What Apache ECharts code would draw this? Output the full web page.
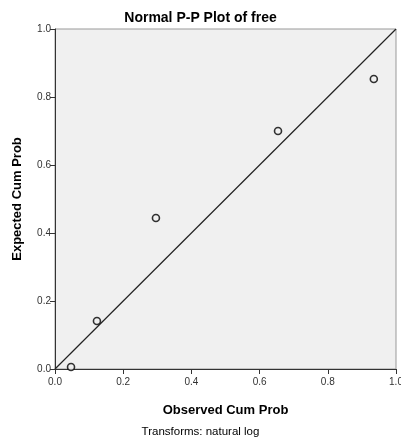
<!DOCTYPE html>
<html>
<head>
<meta charset="utf-8">
<script src="https://cdn.jsdelivr.net/npm/echarts@6/dist/echarts.min.js"></script>
<style>
  html, body { margin: 0; padding: 0; background: #fff; }
  #chart { width: 401px; height: 439px; }
</style>
</head>
<body>
<div id="chart"></div>
<script>
// P-P plot values
const observed = [0.047, 0.123, 0.296, 0.654, 0.935];
const expected = [0.006, 0.141, 0.444, 0.700, 0.853];
const refLine = [[0, 0], [1, 1]];

const font = '"Liberation Sans", Arial, sans-serif';
const points = observed.map((x, i) => [x, expected[i]]);

var chart = echarts.init(document.getElementById('chart'));

const axisCommon = {
  type: 'value',
  min: 0,
  max: 1,
  interval: 0.2,
  axisLine: { show: true, lineStyle: { color: '#333', width: 1 } },
  axisTick: { show: true, length: 5, lineStyle: { color: '#333' } },
  axisLabel: {
    color: '#333',
    fontFamily: font,
    fontSize: 10,
    formatter: v => v.toFixed(1)
  },
  splitLine: { show: false },
  nameLocation: 'middle',
  nameTextStyle: { color: '#000', fontFamily: font, fontSize: 13, fontWeight: 'bold' }
};

option = {
  animation: false,
  title: [
    {
      text: 'Normal P-P Plot of free',
      left: 'center',
      top: 6,
      textStyle: { fontFamily: font, fontSize: 14, fontWeight: 'bold', color: '#000' }
    },
    {
      text: 'Transforms: natural log',
      left: 'center',
      top: 421,
      textStyle: { fontFamily: font, fontSize: 11.5, fontWeight: 'normal', color: '#000' }
    }
  ],
  grid: {
    left: 55,
    right: 5,
    top: 29,
    bottom: 70,
    outerBoundsMode: 'none',
    containLabel: false,
    show: true,
    backgroundColor: '#f0f0f0',
    borderColor: '#999',
    borderWidth: 1
  },
  xAxis: Object.assign({}, axisCommon, {
    name: 'Observed Cum Prob',
    nameGap: 35,
    axisLabel: Object.assign({}, axisCommon.axisLabel, { margin: 8 })
  }),
  yAxis: Object.assign({}, axisCommon, {
    name: 'Expected Cum Prob',
    nameGap: 31,
    axisLabel: Object.assign({}, axisCommon.axisLabel, { margin: 4 })
  }),
  series: [
    {
      type: 'line',
      data: refLine,
      symbol: 'none',
      lineStyle: { color: '#222', width: 1.2 },
      silent: true
    },
    {
      type: 'scatter',
      data: points,
      symbol: 'circle',
      symbolSize: 7,
      itemStyle: { color: '#f0f0f0', borderColor: '#000', borderWidth: 1.6 }
    }
  ]
};

chart.setOption(option);
</script>
</body>
</html>
